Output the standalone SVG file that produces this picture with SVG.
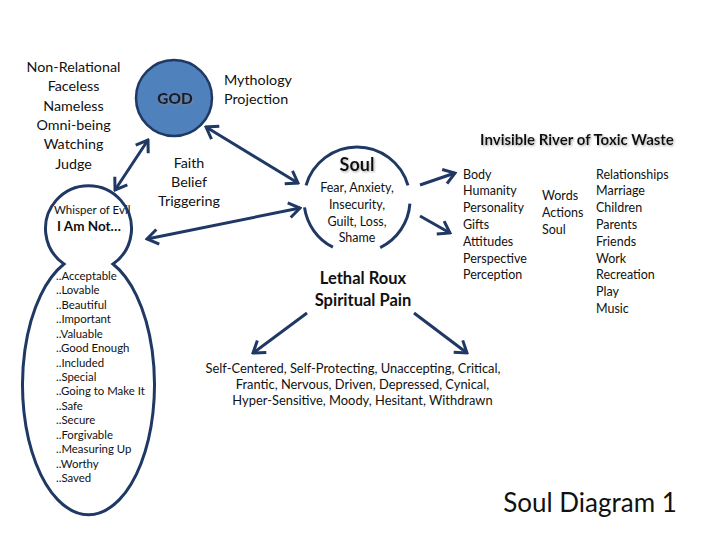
<svg xmlns="http://www.w3.org/2000/svg" width="720" height="540" viewBox="0 0 720 540">
<style>
text{font-family:Lato,"Open Sans","Liberation Sans",sans-serif;fill:#111}
.t14{font-size:14.3px}
.t13{font-size:12.5px}
.t11{font-size:11.4px}
.c{text-anchor:middle}
.b{font-weight:bold}
.edge{stroke:#1F3864;stroke-width:3;fill:none}
.ring{stroke:#1F3864;stroke-width:3;fill:none}
</style>
<defs>
<marker id="ah" viewBox="-13 -9 15 18" refX="0" refY="0" markerWidth="15" markerHeight="18" markerUnits="userSpaceOnUse" orient="auto-start-reverse">
<path d="M-11,-7.5 L0,0 L-11,7.5" fill="none" stroke="#1F3864" stroke-width="3"/>
</marker>
<filter id="sh" x="-20%" y="-20%" width="140%" height="160%">
<feDropShadow dx="1" dy="1.2" stdDeviation="0.8" flood-color="#888" flood-opacity="0.7"/>
</filter>
</defs>
<rect width="720" height="540" fill="#fff"/>

<g id="god">
<circle cx="174" cy="98" r="38" fill="#4F81BD" stroke="#1F3864" stroke-width="2.5"/>
<text x="175" y="104" class="c" style="font-size:15.5px;font-weight:900;fill:#141a2e" filter="url(#sh)">GOD</text>
</g>

<g id="god-attributes">
<text class="t14 c" x="73.5"><tspan x="73.5" y="72">Non-Relational</tspan><tspan x="73.5" y="91">Faceless</tspan><tspan x="73.5" y="110.5">Nameless</tspan><tspan x="73.5" y="130">Omni-being</tspan><tspan x="73.5" y="149">Watching</tspan><tspan x="73.5" y="168.5">Judge</tspan></text>
<text class="t14" x="224"><tspan x="224" y="84.5">Mythology</tspan><tspan x="224" y="103.5">Projection</tspan></text>
<text class="t14 c" x="189"><tspan x="189" y="167.5">Faith</tspan><tspan x="189" y="186.5">Belief</tspan><tspan x="189" y="205.5">Triggering</tspan></text>
</g>

<g id="soul">
<path class="ring" d="M306.05,185.4 A53,53 0 0 1 407.95,185.4 M409.9,203.7 A53,53 0 0 1 380.2,247.6 M332.9,247.2 A53,53 0 0 1 304.5,207.4"/>
<text x="357" y="171" class="c b" style="font-size:18px" filter="url(#sh)">Soul</text>
<text class="t13 c" x="357"><tspan x="357" y="191.5">Fear, Anxiety,</tspan><tspan x="357" y="208.5">Insecurity,</tspan><tspan x="357" y="225.5">Guilt, Loss,</tspan><tspan x="357" y="242">Shame</tspan></text>
</g>

<g id="whisper">
<text x="54" y="214" style="font-size:11.5px">Whisper of Evil</text>
<text x="89" y="231" class="c b" style="font-size:13.5px">I Am Not…</text>
<path class="ring" d="M64,264 A43,43 0 1 1 113,264 A66,130 0 1 1 64,264 Z"/>
<text class="t11" x="56"><tspan x="56" y="280">..Acceptable</tspan><tspan x="56" y="294.4">..Lovable</tspan><tspan x="56" y="308.9">..Beautiful</tspan><tspan x="56" y="323.3">..Important</tspan><tspan x="56" y="337.7">..Valuable</tspan><tspan x="56" y="352.1">..Good Enough</tspan><tspan x="56" y="366.6">..Included</tspan><tspan x="56" y="381">..Special</tspan><tspan x="56" y="395.4">..Going to Make It</tspan><tspan x="56" y="409.9">..Safe</tspan><tspan x="56" y="424.3">..Secure</tspan><tspan x="56" y="438.7">..Forgivable</tspan><tspan x="56" y="453.1">..Measuring Up</tspan><tspan x="56" y="467.6">..Worthy</tspan><tspan x="56" y="482">..Saved</tspan></text>
</g>

<g id="river">
<text x="577" y="144.5" class="c b" style="font-size:15px" filter="url(#sh)">Invisible River of Toxic Waste</text>
<text class="t13" x="463"><tspan x="463" y="178.5">Body</tspan><tspan x="463" y="195">Humanity</tspan><tspan x="463" y="212">Personality</tspan><tspan x="463" y="228.5">Gifts</tspan><tspan x="463" y="245.5">Attitudes</tspan><tspan x="463" y="262.5">Perspective</tspan><tspan x="463" y="279">Perception</tspan></text>
<text class="t13" x="542"><tspan x="542" y="199.5">Words</tspan><tspan x="542" y="216.5">Actions</tspan><tspan x="542" y="233.5">Soul</tspan></text>
<text class="t13" x="596"><tspan x="596" y="178.5">Relationships</tspan><tspan x="596" y="195">Marriage</tspan><tspan x="596" y="212">Children</tspan><tspan x="596" y="228.5">Parents</tspan><tspan x="596" y="245.5">Friends</tspan><tspan x="596" y="262.5">Work</tspan><tspan x="596" y="279">Recreation</tspan><tspan x="596" y="296">Play</tspan><tspan x="596" y="312.5">Music</tspan></text>
</g>

<g id="lethal-roux">
<text class="c b" style="font-size:16.5px" x="363"><tspan x="363" y="284">Lethal Roux</tspan><tspan x="363" y="306">Spiritual Pain</tspan></text>
</g>

<g id="effects">
<text class="c" style="font-size:12.9px"><tspan x="353" y="373">Self-Centered, Self-Protecting, Unaccepting, Critical,</tspan><tspan x="362.5" y="389">Frantic, Nervous, Driven, Depressed, Cynical,</tspan><tspan x="362.5" y="404.5">Hyper-Sensitive, Moody, Hesitant, Withdrawn</tspan></text>
</g>

<g id="title">
<text x="590" y="512" class="c" style="font-size:26px">Soul Diagram 1</text>
</g>

<g id="connectors">
<line class="edge" x1="148" y1="140" x2="115" y2="190" marker-start="url(#ah)" marker-end="url(#ah)"/>
<line class="edge" x1="206" y1="127" x2="298" y2="183" marker-start="url(#ah)" marker-end="url(#ah)"/>
<line class="edge" x1="300" y1="208" x2="147" y2="239" marker-start="url(#ah)" marker-end="url(#ah)"/>
<line class="edge" x1="420" y1="185" x2="455" y2="173" marker-end="url(#ah)"/>
<line class="edge" x1="420" y1="216" x2="450" y2="233" marker-end="url(#ah)"/>
<line class="edge" x1="307" y1="313" x2="253" y2="353" marker-end="url(#ah)"/>
<line class="edge" x1="414" y1="313" x2="467" y2="353" marker-end="url(#ah)"/>
</g>
</svg>
